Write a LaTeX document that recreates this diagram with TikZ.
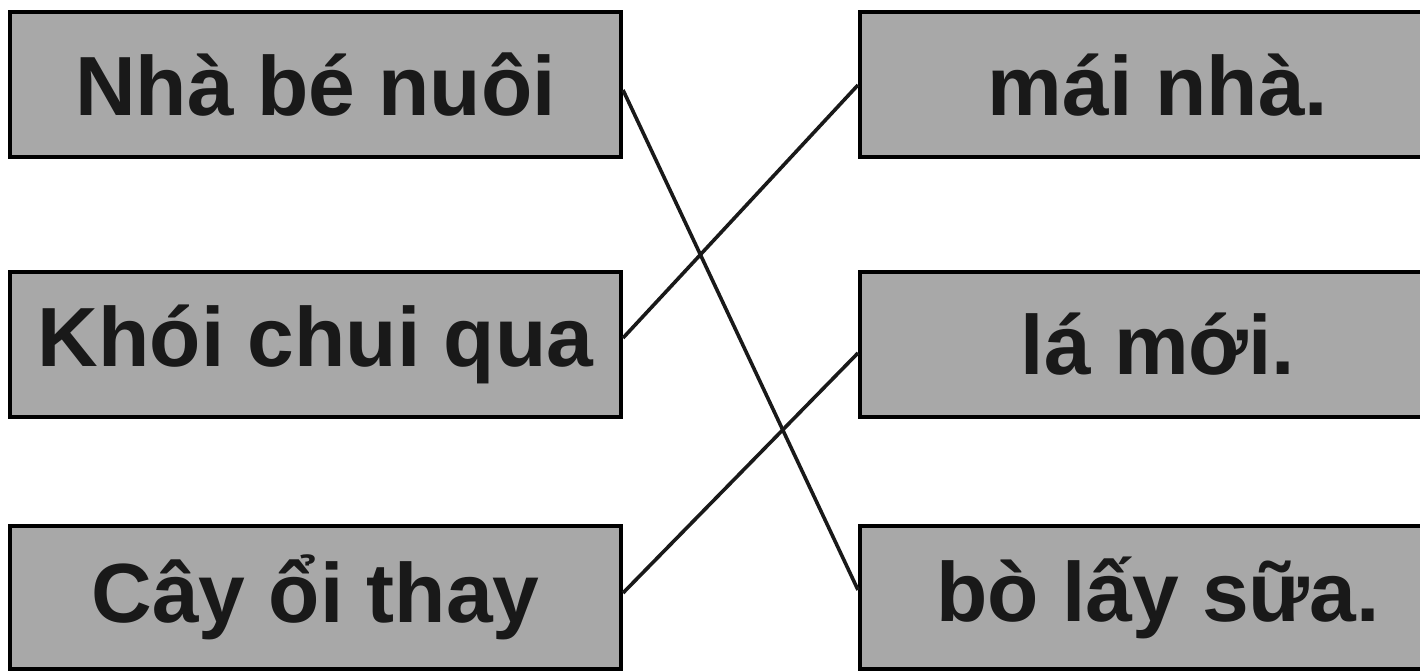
\documentclass[tikz,border=0pt]{standalone}
\usepackage{fontspec}
\setmainfont{Liberation Sans}
\usetikzlibrary{calc}
\definecolor{boxgray}{RGB}{168,168,168}
\begin{document}
\begin{tikzpicture}[x=0.5pt,y=-0.5pt,
  card/.style={draw=black, line width=2pt, fill=boxgray, rectangle,
    minimum height=72.5pt, inner sep=0pt,
    font=\fontsize{42}{50}\selectfont\bfseries, text=black!90},
  lcard/.style={card, minimum width=305.5pt},
  rcard/.style={card, minimum width=298pt},
  link/.style={draw=black!90, line width=1.8pt}]
\useasboundingbox (0,0) rectangle (1420,672);
\node[lcard] (L1) at (315.5,84.5) {Nhà bé nuôi};
\node[lcard] (L2) at (315.5,344.5) {Khói chui qua};
\node[lcard, minimum height=71.5pt] (L3) at (315.5,597.5) {Cây ổi thay};
\node[rcard] (R1) at (1158,85) {mái nhà.};
\node[rcard] (R2) at (1158,344.5) {lá mới.};
\node[rcard, minimum height=71.5pt] (R3) at (1158,597.5) {bò lấy sữa.};
\draw[link] ($(L1.east)+(0,5.5)$) -- ($(R3.west)+(0,-7.5)$);
\draw[link] ($(L2.east)+(0,-6.5)$) -- ($(R1.west)+(0,0)$);
\draw[link] ($(L3.east)+(0,-4.5)$) -- ($(R2.west)+(0,8.5)$);
\end{tikzpicture}
\end{document}
